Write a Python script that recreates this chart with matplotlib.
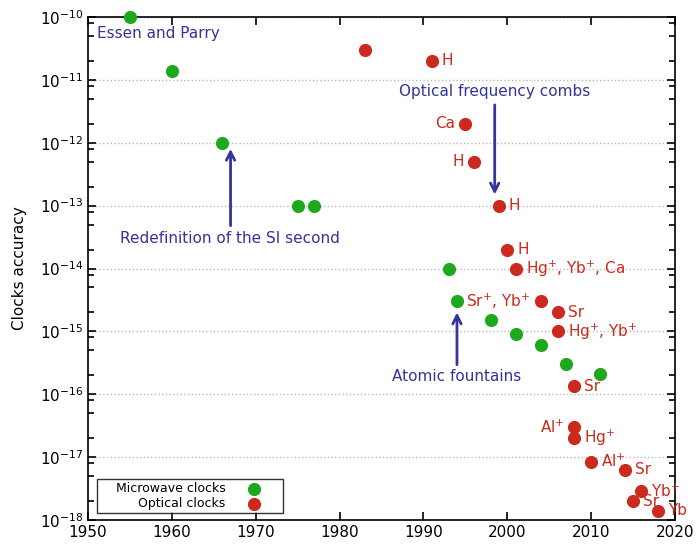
import matplotlib
matplotlib.use("Agg")
from matplotlib import pyplot as plt
from matplotlib.ticker import LogLocator, NullFormatter

green = "#1ea81e"
red = "#cc2a1e"
blue = "#34349a"

# microwave clocks
mw_years = [1955, 1960, 1966, 1975, 1977, 1993, 1994, 1998, 2001, 2004, 2007, 2011]
mw_acc = [1e-10, 1.4e-11, 1e-12, 1e-13, 1e-13, 1e-14, 3e-15, 1.5e-15, 9e-16, 6e-16, 3e-16, 2.1e-16]

# optical clocks
opt_years = [1983, 1991, 1995, 1996, 1999, 2000, 2001, 2004, 2006, 2006,
             2008, 2008, 2008, 2010, 2014, 2016, 2015, 2018]
opt_acc = [3e-11, 2e-11, 2e-12, 5e-13, 1e-13, 2e-14, 1e-14, 3e-15, 2e-15, 1e-15,
           1.35e-16, 3e-17, 2e-17, 8.5e-18, 6.3e-18, 2.9e-18, 2e-18, 1.4e-18]
opt_labels = ["", "H", "Ca", "H", "H", "H", r"Hg$^{+}$, Yb$^{+}$, Ca", "", "Sr",
              r"Hg$^{+}$, Yb$^{+}$", "Sr", r"Al$^{+}$", r"Hg$^{+}$", r"Al$^{+}$",
              "Sr", r"Yb$^{+}$", "Sr", "Yb"]
opt_left = [False, False, True, True, False, False, False, False, False, False,
            False, True, False, False, False, False, False, False]

fig = plt.figure(figsize=(6.99, 5.49), dpi=100)
ax = fig.add_axes([88 / 699, 1 - 520 / 549, 587 / 699, 503 / 549])

ax.scatter(mw_years, mw_acc, s=90, color=green, zorder=3, clip_on=False,
           linewidths=0, label="    Microwave clocks")
ax.scatter(opt_years, opt_acc, s=90, color=red, zorder=3, clip_on=False,
           linewidths=0, label="Optical clocks")

for yr, acc, lab, left in zip(opt_years, opt_acc, opt_labels, opt_left):
    if lab == "":
        continue
    if left:
        ax.annotate(lab, (yr, acc), xytext=(-10, 0), textcoords="offset pixels",
                    ha="right", va="center", color=red, fontsize=11)
    else:
        ax.annotate(lab, (yr, acc), xytext=(10, 0), textcoords="offset pixels",
                    ha="left", va="center", color=red, fontsize=11)

ax.annotate(r"Sr$^{+}$, Yb$^{+}$", (1994, 3e-15), xytext=(9, 0),
            textcoords="offset pixels", ha="left", va="center", color=red, fontsize=11)

# annotations
ax.text(1951.1, 5.4e-11, "Essen and Parry", color=blue, fontsize=11, ha="left", va="center")
ax.text(1966.9, 2.95e-14, "Redefinition of the SI second", color=blue, fontsize=11,
        ha="center", va="center")
ax.text(1998.45, 6.6e-12, "Optical frequency combs", color=blue, fontsize=11,
        ha="center", va="center")
ax.text(1994, 1.9e-16, "Atomic fountains", color=blue, fontsize=11, ha="center", va="center")

arrow = dict(arrowstyle="->,head_length=0.6,head_width=0.3", color=blue, lw=2,
             shrinkA=0, shrinkB=0)
ax.annotate("", xy=(1967, 8e-13), xytext=(1967, 4.8e-14), arrowprops=arrow)
ax.annotate("", xy=(1998.5, 1.5e-13), xytext=(1998.5, 4e-12), arrowprops=arrow)
ax.annotate("", xy=(1994, 2e-15), xytext=(1994, 2.95e-16), arrowprops=arrow)

ax.set_yscale("log")
ax.set_xlim(1950, 2020)
ax.set_ylim(1e-18, 1e-10)
ax.set_xticks(range(1950, 2021, 10))
ax.yaxis.set_major_locator(LogLocator(base=10, numticks=20))
ax.yaxis.set_minor_locator(LogLocator(base=10, subs=(2.0, 5.0, 8.0), numticks=20))
ax.yaxis.set_minor_formatter(NullFormatter())
ax.tick_params(which="both", direction="in", top=True, right=True, labelsize=11)
ax.tick_params(which="major", length=6, width=1.2)
ax.tick_params(which="minor", length=4, width=1.2)
ax.yaxis.grid(True, which="major", linestyle=":", color="#b8b8b8", linewidth=1)
ax.set_axisbelow(True)
for sp in ax.spines.values():
    sp.set_linewidth(1.2)

ax.set_ylabel("Clocks accuracy", fontsize=11)
ax.yaxis.set_label_coords(-0.104, 0.5)

leg = ax.legend(loc="lower left", bbox_to_anchor=(0.015, 0.014), markerfirst=False,
                fontsize=9, frameon=True, fancybox=False, edgecolor="black",
                borderpad=0.25, labelspacing=0.15, handletextpad=0.3,
                borderaxespad=0, handlelength=4)
leg.get_frame().set_linewidth(1.0)

fig.savefig("out.png", dpi=100)
